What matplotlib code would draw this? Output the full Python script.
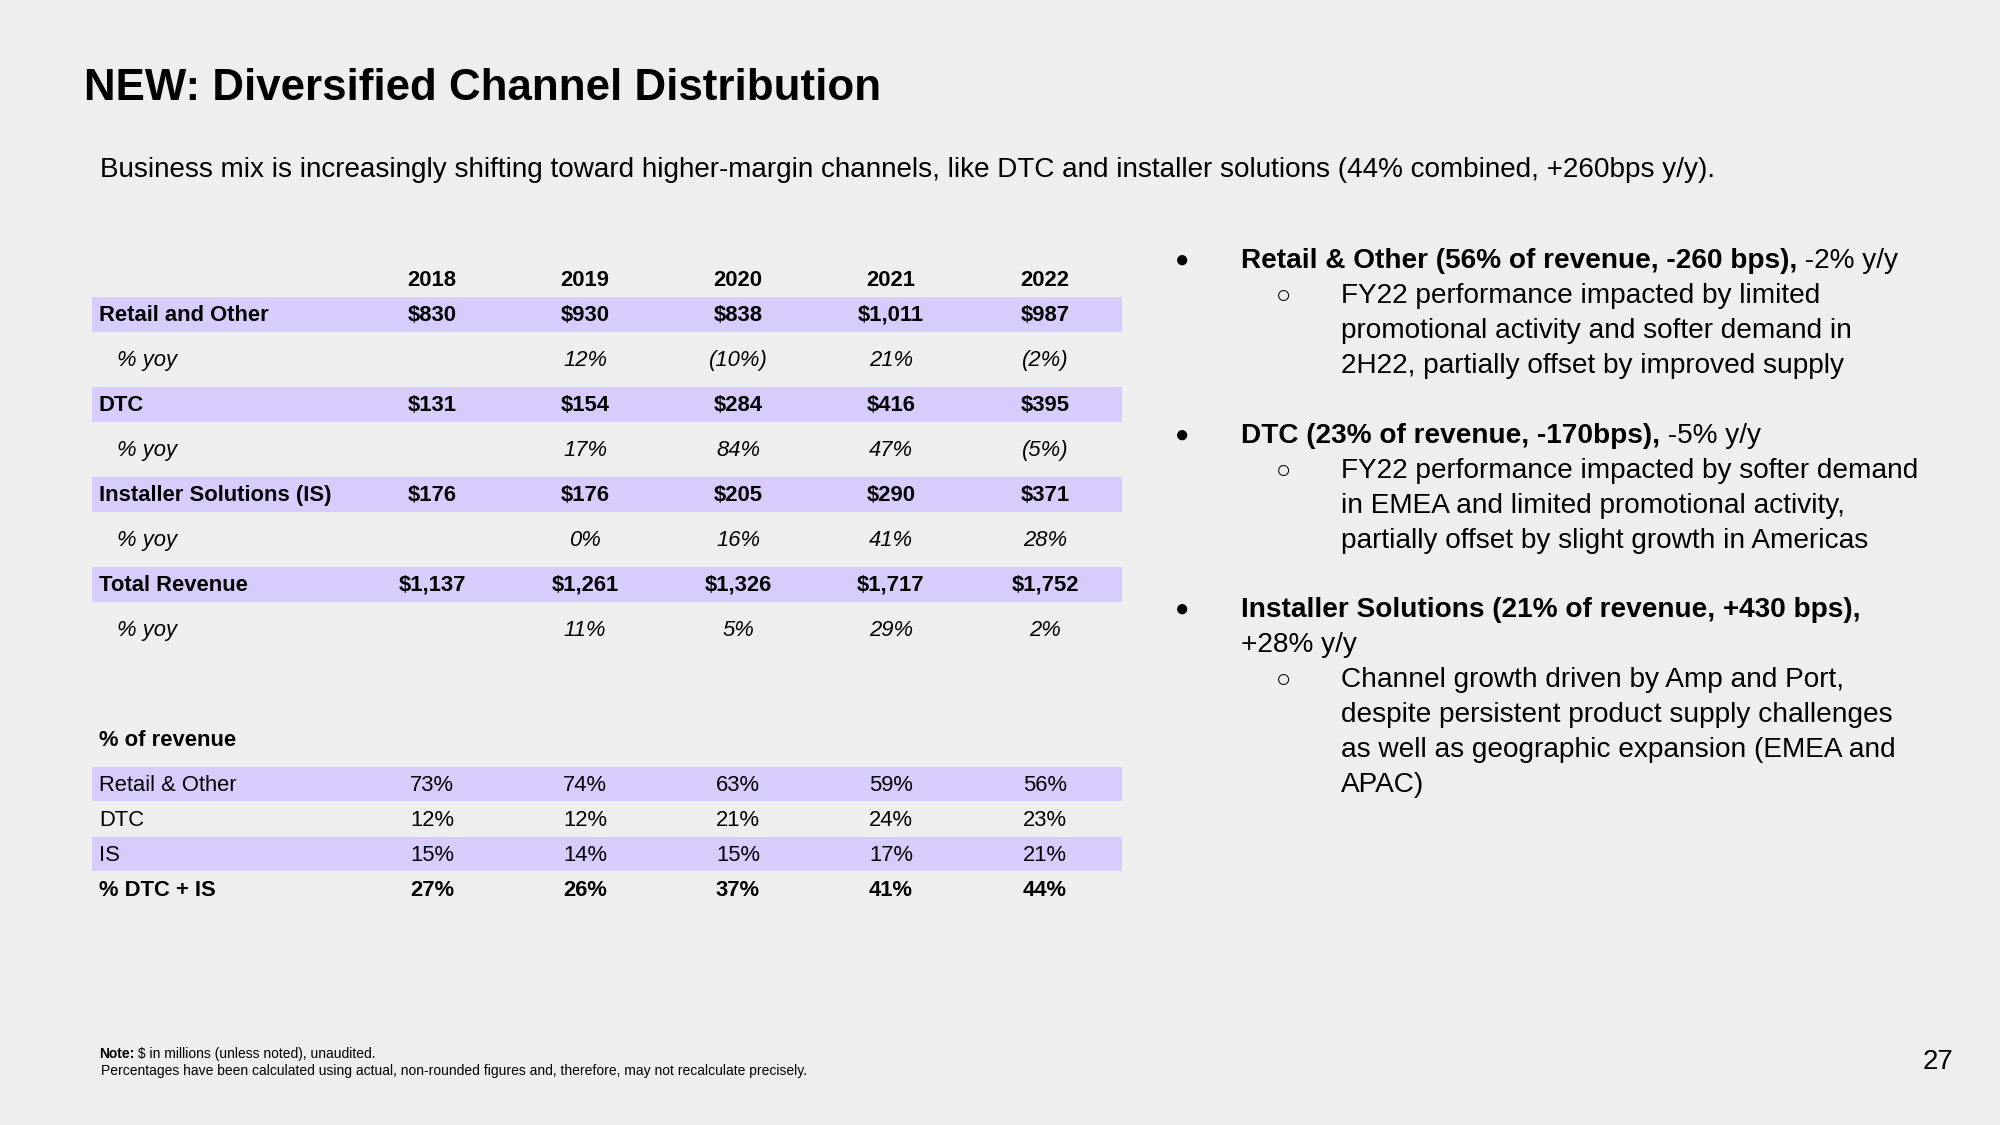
import matplotlib.pyplot as plt
from matplotlib.patches import Rectangle

# data
years = ['2018', '2019', '2020', '2021', '2022']
retail = ['$830', '$930', '$838', '$1,011', '$987']
retail_yoy = ['', '12%', '(10%)', '21%', '(2%)']
dtc = ['$131', '$154', '$284', '$416', '$395']
dtc_yoy = ['', '17%', '84%', '47%', '(5%)']
installer = ['$176', '$176', '$205', '$290', '$371']
installer_yoy = ['', '0%', '16%', '41%', '28%']
total = ['$1,137', '$1,261', '$1,326', '$1,717', '$1,752']
total_yoy = ['', '11%', '5%', '29%', '2%']

mix_retail = ['73%', '74%', '63%', '59%', '56%']
mix_dtc = ['12%', '12%', '21%', '24%', '23%']
mix_is = ['15%', '14%', '15%', '17%', '21%']
mix_dtc_is = ['27%', '26%', '37%', '41%', '44%']

top_rows = [
    ('Retail and Other', retail, 'main'),
    ('% yoy', retail_yoy, 'yoy'),
    ('DTC', dtc, 'main'),
    ('% yoy', dtc_yoy, 'yoy'),
    ('Installer Solutions (IS)', installer, 'main'),
    ('% yoy', installer_yoy, 'yoy'),
    ('Total Revenue', total, 'main'),
    ('% yoy', total_yoy, 'yoy'),
]
mix_rows = [
    ('Retail & Other', mix_retail, True, False),
    ('DTC', mix_dtc, False, False),
    ('IS', mix_is, True, False),
    ('% DTC + IS', mix_dtc_is, False, True),
]

bullets = [
    ('Retail & Other (56% of revenue, -260 bps),', ' -2% y/y', False,
     ['FY22 performance impacted by limited',
      'promotional activity and softer demand in',
      '2H22, partially offset by improved supply']),
    ('DTC (23% of revenue, -170bps),', ' -5% y/y', False,
     ['FY22 performance impacted by softer demand',
      'in EMEA and limited promotional activity,',
      'partially offset by slight growth in Americas']),
    ('Installer Solutions (21% of revenue, +430 bps),', '+28% y/y', True,
     ['Channel growth driven by Amp and Port,',
      'despite persistent product supply challenges',
      'as well as geographic expansion (EMEA and',
      'APAC)']),
]

BG = '#eeeeee'
BAND = '#d8ccfc'
plt.rcParams['font.family'] = 'Liberation Sans'

fig = plt.figure(figsize=(20, 11.25), dpi=100, facecolor=BG)
ax = fig.add_axes([0, 0, 1, 1])
ax.set_xlim(0, 2000)
ax.set_ylim(1125, 0)
ax.axis('off')

ax.text(84, 88, 'NEW: Diversified Channel Distribution', fontsize=31.6,
        fontweight='bold', va='center', ha='left')
ax.text(100, 170, 'Business mix is increasingly shifting toward higher-margin channels, '
        'like DTC and installer solutions (44% combined, +260bps y/y).',
        fontsize=20.1, va='center', ha='left')

# table
fs = 15.8
col_x = [432, 585, 738, 891, 1045]
left, right = 92, 1122
for x, yr in zip(col_x, years):
    ax.text(x, 280, yr, fontsize=fs, fontweight='bold', ha='center', va='center')

y0, dy, band_h = 314, 45, 35
for i, (label, vals, kind) in enumerate(top_rows):
    y = y0 + i * dy
    ty = y + 1.5
    if kind == 'main':
        ax.add_patch(Rectangle((left, y - band_h / 2), right - left, band_h,
                               facecolor=BAND, edgecolor='none'))
        ax.text(99, ty, label, fontsize=fs, fontweight='bold', va='center')
        for x, v in zip(col_x, vals):
            ax.text(x, ty, v, fontsize=fs, fontweight='bold', ha='center', va='center')
    else:
        ax.text(117, ty, label, fontsize=fs, style='italic', va='center')
        for x, v in zip(col_x, vals):
            ax.text(x, ty, v, fontsize=fs, style='italic', ha='center', va='center')

ax.text(99, 741, '% of revenue', fontsize=fs, fontweight='bold', va='center')
m0, mdy, mband = 784, 35, 34
for i, (label, vals, band, bold) in enumerate(mix_rows):
    y = m0 + i * mdy
    ty = y + 1.5
    if band:
        ax.add_patch(Rectangle((left, y - mband / 2), right - left, mband,
                               facecolor=BAND, edgecolor='none'))
    w = 'bold' if bold else 'normal'
    ax.text(99, ty, label, fontsize=fs, fontweight=w, va='center')
    for x, v in zip(col_x, vals):
        ax.text(x, ty, v, fontsize=fs, fontweight=w, ha='center', va='center')

# bullets
line_h = 35
bfs = 20.2
starts = [261, 436, 610]
for y, (head, tail, wrap, subs) in zip(starts, bullets):
    ax.text(1182, y, '\u25cf', fontsize=17, ha='center', va='center')
    t = ax.text(1241, y, head, fontsize=bfs, fontweight='bold', va='center')
    if wrap:
        ax.text(1241, y + line_h, tail, fontsize=bfs, va='center')
        ys = y + 2 * line_h
    else:
        ax.annotate(tail, xycoords=t, xy=(1, 0.5), va='center', fontsize=bfs)
        ys = y + line_h
    ax.text(1283, ys, '\u25cb', fontsize=18, ha='center', va='center')
    for k, s in enumerate(subs):
        ax.text(1341, ys + k * line_h, s, fontsize=bfs, va='center')

# footnote
n = ax.text(99, 1054, 'Note:', fontsize=10, fontweight='bold', va='center')
ax.annotate(' $ in millions (unless noted), unaudited.', xycoords=n, xy=(1, 0.5),
            va='center', fontsize=10)
ax.text(101, 1071, 'Percentages have been calculated using actual, non-rounded figures and, '
        'therefore, may not recalculate precisely.', fontsize=10, va='center')

ax.text(1953, 1062, '27', fontsize=20, ha='right', va='center')

fig.savefig('out.png', dpi=100, facecolor=BG)
